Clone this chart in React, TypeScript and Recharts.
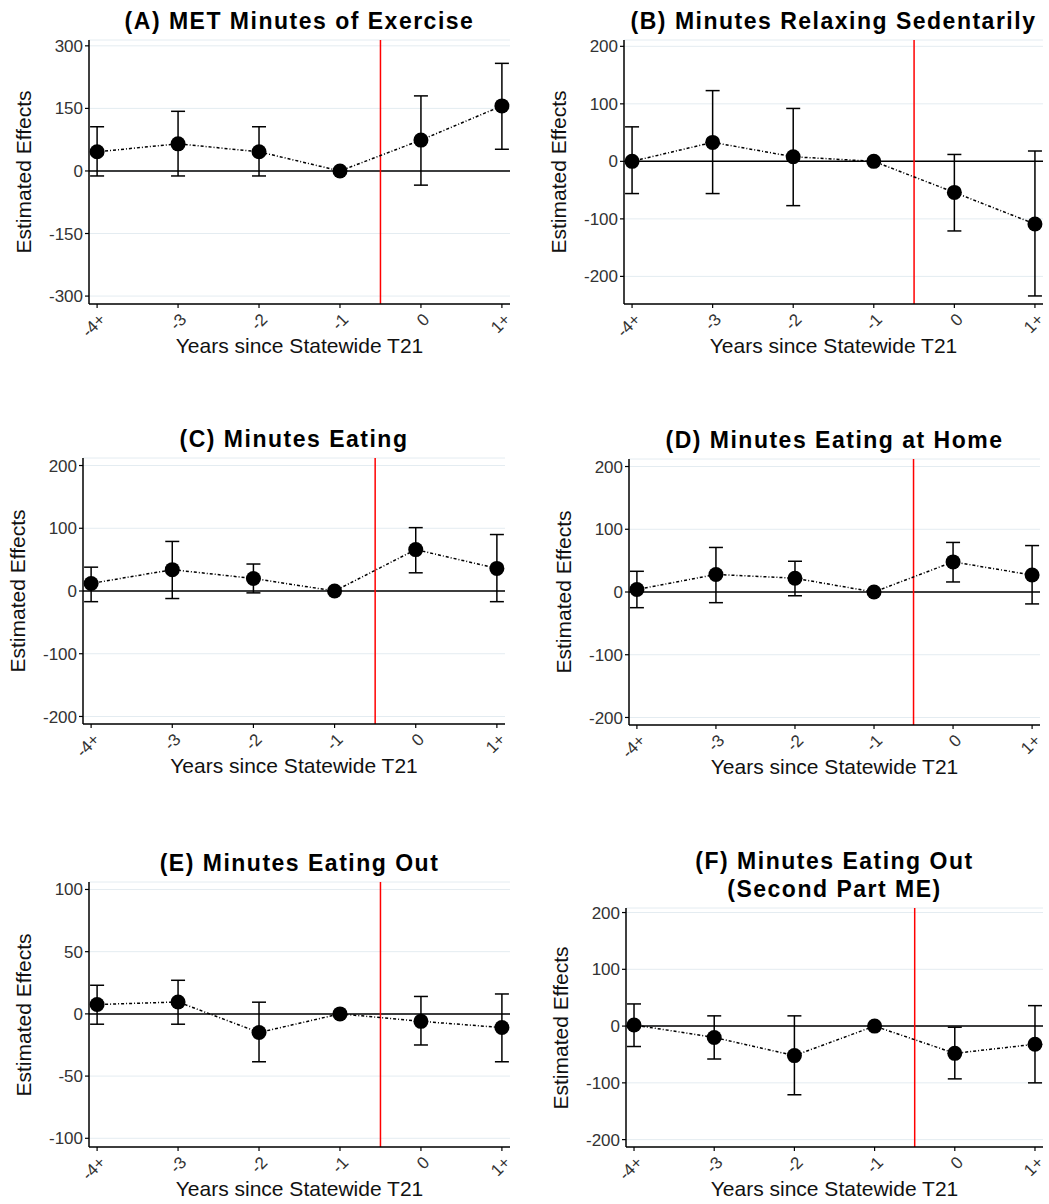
import React from "react";
import {
  ComposedChart,
  Line,
  ErrorBar,
  XAxis,
  YAxis,
  CartesianGrid,
  ReferenceLine,
} from "recharts";

const FONT = '"Liberation Sans", Arial, sans-serif';

const yearLabels = ["-4+", "-3", "-2", "-1", "0", "1+"];

// (A) MET minutes of exercise
const metEst = [46, 65, 46, 0, 74, 156];
const metLo = [-12, -12, -12, 0, -34, 52];
const metHi = [106, 143, 106, 0, 180, 258];

// (B) minutes relaxing sedentarily
const relaxEst = [0, 33, 8, 0, -54, -109];
const relaxLo = [-56, -56, -77, 0, -121, -234];
const relaxHi = [60, 123, 92, 0, 12, 18];

// (C) minutes eating
const eatEst = [12, 34, 20, 0, 66, 36];
const eatLo = [-17, -12, -3, 0, 29, -17];
const eatHi = [38, 79, 43, 0, 101, 90];

// (D) minutes eating at home
const homeEst = [4, 28, 22, 0, 48, 27];
const homeLo = [-25, -17, -6, 0, 16, -19];
const homeHi = [33, 71, 49, 0, 79, 74];

// (E) minutes eating out
const outEst = [7.5, 9.6, -15, 0, -6, -11];
const outLo = [-8.3, -8.3, -38.5, 0, -25, -38.5];
const outHi = [23, 27, 9.4, 0, 14, 16];

// (F) minutes eating out, second part ME
const out2Est = [2, -20, -52, 0, -48, -32];
const out2Lo = [-36, -58, -121, 0, -93, -100];
const out2Hi = [39, 18, 18, 0, -2, 36];

const rows = (est: number[], lo: number[], hi: number[]) =>
  est.map((v, i) => ({ x: i, est: v, err: [v - lo[i], hi[i] - v] }));

const XTick = ({ x, y, payload }: any) => (
  <g transform={`translate(${x + 1},${y + 2})`}>
    <text
      transform="rotate(-45)"
      textAnchor="end"
      dominantBaseline="hanging"
      fontSize={17}
      fill="#333"
      fontFamily={FONT}
    >
      {yearLabels[payload.value]}
    </text>
  </g>
);

type PanelProps = {
  title: string[];
  data: { x: number; est: number; err: number[] }[];
  domain: [number, number];
  ticks: number[];
  x0: number;
  y0: number;
  w: number;
  h: number;
  plot: { L: number; T: number; R: number; B: number };
};

const YW = 50;
const XH = 40;

const Panel: React.FC<PanelProps> = ({ title, data, domain, ticks, x0, y0, w, h, plot }) => {
  const { L, T, R, B } = plot;
  const cx = (L + R) / 2;
  return (
    <>
      <div style={{ position: "absolute", left: x0, top: y0, width: w, height: h }}>
        <ComposedChart
          width={w}
          height={h}
          data={data}
          margin={{ top: T - y0, left: L - x0 - YW, right: x0 + w - R, bottom: y0 + h - B - XH }}
        >
          <CartesianGrid vertical={false} stroke="#e4ecf1" strokeWidth={1} />
          <XAxis
            type="number"
            dataKey="x"
            domain={[-0.1, 5.1]}
            ticks={[0, 1, 2, 3, 4, 5]}
            allowDataOverflow
            height={XH}
            tick={<XTick />}
            tickSize={4}
            tickMargin={2}
            axisLine={{ stroke: "#000", strokeWidth: 1.5 }}
            tickLine={{ stroke: "#000", strokeWidth: 1.2 }}
            interval={0}
          />
          <YAxis
            type="number"
            domain={domain}
            ticks={ticks}
            allowDataOverflow
            width={YW}
            tickSize={4}
            tickMargin={2}
            interval={0}
            axisLine={{ stroke: "#000", strokeWidth: 1.5 }}
            tickLine={{ stroke: "#000", strokeWidth: 1.2 }}
            tick={{ fontSize: 17, fill: "#333", fontFamily: FONT }}
          />
          <ReferenceLine y={0} stroke="#000" strokeWidth={1.5} />
          <ReferenceLine x={3.5} stroke="#ff0000" strokeWidth={1.5} />
          <Line
            dataKey="est"
            stroke="#000"
            strokeWidth={1.5}
            strokeDasharray="3 2 1 2"
            dot={{ r: 7.5, fill: "#000", stroke: "#000", strokeWidth: 0 }}
            activeDot={false}
            isAnimationActive={false}
          >
            <ErrorBar dataKey="err" direction="y" width={7} stroke="#000" strokeWidth={1.5} />
          </Line>
        </ComposedChart>
      </div>
      {title.map((t, i) => (
        <div
          key={i}
          style={{
            position: "absolute",
            left: cx,
            top: T - 19 - (title.length - 1 - i) * 28,
            transform: "translate(-50%, -50%)",
            whiteSpace: "nowrap",
            fontFamily: FONT,
            fontWeight: "bold",
            fontSize: 23,
            letterSpacing: 1.5,
            lineHeight: 1,
            color: "#000",
          }}
        >
          {t}
        </div>
      ))}
      <div
        style={{
          position: "absolute",
          left: cx,
          top: B + 41,
          transform: "translate(-50%, -50%)",
          whiteSpace: "nowrap",
          fontFamily: FONT,
          fontSize: 21,
          lineHeight: 1,
          color: "#111",
        }}
      >
        Years since Statewide T21
      </div>
      <div
        style={{
          position: "absolute",
          left: L - 66,
          top: (T + B) / 2,
          transform: "translate(-50%, -50%) rotate(-90deg)",
          whiteSpace: "nowrap",
          fontFamily: FONT,
          fontSize: 21,
          lineHeight: 1,
          color: "#111",
        }}
      >
        Estimated Effects
      </div>
    </>
  );
};

const t200 = [-200, -100, 0, 100, 200];

export default function App() {
  return (
    <div style={{ position: "absolute", left: 0, top: 0, width: 1049, height: 1204, background: "#fff", overflow: "hidden" }}>
      <Panel
        title={["(A) MET Minutes of Exercise"]}
        data={rows(metEst, metLo, metHi)}
        domain={[-319, 314]}
        ticks={[-300, -150, 0, 150, 300]}
        x0={0} y0={0} w={520} h={360}
        plot={{ L: 89, T: 40, R: 510, B: 304 }}
      />
      <Panel
        title={["(B) Minutes Relaxing Sedentarily"]}
        data={rows(relaxEst, relaxLo, relaxHi)}
        domain={[-248, 211]}
        ticks={t200}
        x0={524} y0={0} w={525} h={360}
        plot={{ L: 624, T: 40, R: 1043, B: 304 }}
      />
      <Panel
        title={["(C) Minutes Eating"]}
        data={rows(eatEst, eatLo, eatHi)}
        domain={[-212, 212]}
        ticks={t200}
        x0={0} y0={420} w={520} h={360}
        plot={{ L: 83, T: 458, R: 505, B: 724 }}
      />
      <Panel
        title={["(D) Minutes Eating at Home"]}
        data={rows(homeEst, homeLo, homeHi)}
        domain={[-212, 212]}
        ticks={t200}
        x0={524} y0={420} w={525} h={360}
        plot={{ L: 629, T: 459, R: 1040, B: 725 }}
      />
      <Panel
        title={["(E) Minutes Eating Out"]}
        data={rows(outEst, outLo, outHi)}
        domain={[-107, 106]}
        ticks={[-100, -50, 0, 50, 100]}
        x0={0} y0={840} w={520} h={360}
        plot={{ L: 89, T: 882, R: 510, B: 1147 }}
      />
      <Panel
        title={["(F) Minutes Eating Out", "(Second Part ME)"]}
        data={rows(out2Est, out2Lo, out2Hi)}
        domain={[-213, 208]}
        ticks={t200}
        x0={524} y0={840} w={525} h={360}
        plot={{ L: 626, T: 908, R: 1043, B: 1147 }}
      />
    </div>
  );
}
